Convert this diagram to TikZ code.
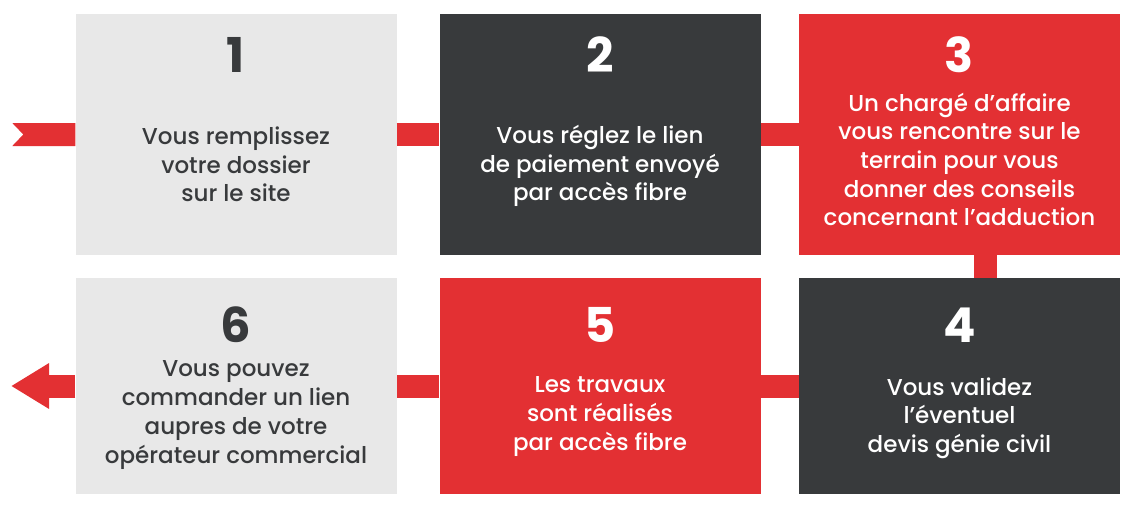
\documentclass[tikz,border=0pt]{standalone}
\usepackage{fontspec}
\setmainfont{Poppins}[UprightFont=* Medium,BoldFont=* Bold]
\usepackage{tikz}
\usetikzlibrary{arrows.meta,calc,positioning}
\usepackage{xcolor}
\definecolor{stepred}{HTML}{E33033}
\definecolor{stepdark}{HTML}{383A3C}
\definecolor{steplight}{HTML}{E8E8E8}

\begin{document}
\begin{tikzpicture}[
  x=1pt,y=-1pt,
  panel/.style={
    minimum width=321pt,
    inner sep=0pt
  },
  lightpanel/.style={panel,fill=steplight},
  darkpanel/.style={panel,fill=stepdark},
  redpanel/.style={panel,fill=stepred},
  number/.style={
    font=\fontsize{48}{48}\selectfont\bfseries,
    inner sep=0pt
  },
  caption/.style={
    align=center,
    inner sep=0pt,
    font=\fontsize{23}{28.7}\selectfont
  },
  link/.style={
    draw=stepred,
    line width=23pt
  }
]
\useasboundingbox (0,0) rectangle (1145,514);

% Top row
\node[lightpanel,minimum height=241pt] (box1) at (236,134.5) {};
\node[darkpanel,minimum height=241pt] (box2) at (600,134.5) {};
\node[redpanel,minimum height=241pt] (box3) at (959.5,134.5) {};

% Bottom row
\node[lightpanel,minimum height=216pt] (box6) at (236,386) {};
\node[redpanel,minimum height=216pt] (box5) at (600,386) {};
\node[darkpanel,minimum height=216pt] (box4) at (959.5,386) {};

% Numbers
\node[number,text=stepdark] (num1) at (236,55) {1};
\node[number,text=white] (num2) at (600,55) {2};
\node[number,text=white] (num3) at (959.5,55) {3};
\node[number,text=white] (num4) at (959.5,325) {4};
\node[number,text=white] (num5) at (600,325) {5};
\node[number,text=stepdark] (num6) at (236,325) {6};

% Texts
\node[caption,text=stepdark] (text1) at (236,164.5)
  {Vous remplissez\\ votre dossier\\ sur le site};
\node[caption,text=white] (text2) at (600,166)
  {Vous réglez le lien\\ de paiement envoyé\\ par accès fibre};
\node[caption,text=white] (text3) at (959.5,159.5)
  {Un chargé d’affaire\\ vous rencontre sur le\\ terrain pour vous\\
   donner des conseils\\ concernant l’adduction};
\node[caption,text=white] (text4) at (959.5,418)
  {Vous validez\\ l’éventuel\\ devis génie civil};
\node[caption,text=white] (text5) at (600,416.5)
  {Les travaux\\ sont réalisés\\ par accès fibre};
\node[caption,text=stepdark] (text6) at (236,415)
  {Vous pouvez\\ commander un lien\\ aupres de votre\\ opérateur commercial};

% Connectors
\coordinate (exit) at (11,386);
\fill[stepred] (box1.west) ++(0,-11.5) -- ++(-63,0) -- ++(11,11.5)
  -- ++(-11,11.5) -- ++(63,0) -- cycle;
\draw[link] (box1) -- (box2);
\draw[link] (box2) -- (box3);
\draw[link] ([xshift=25.5pt]box3.south) -- ([xshift=25.5pt]box4.north);
\draw[link] (box4) -- (box5);
\draw[link] (box5) -- (box6);
\draw[link,-{Triangle[length=38pt,width=43pt]}] (box6.west) -- (exit);
\end{tikzpicture}
\end{document}
